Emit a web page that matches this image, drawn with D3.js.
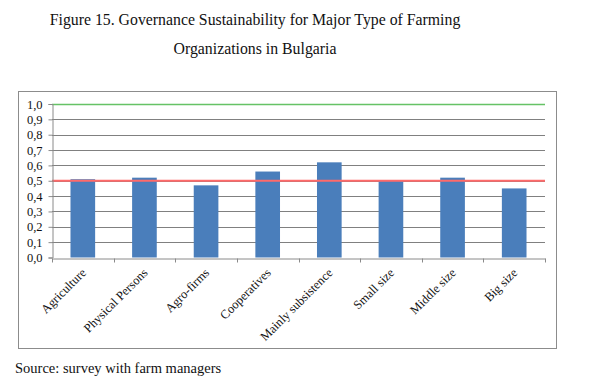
<!DOCTYPE html>
<html lang="en">
<head>
    <meta charset="UTF-8">
    <title>Governance Sustainability</title>
    <script src="https://cdn.jsdelivr.net/npm/d3@7/dist/d3.min.js"></script>
    <style>
        body { margin: 0; background: #fff; }
    </style>
</head>
<body>
    <script>
        // page size
        var w = 590;
        var h = 389;

        // data
        var categories = ["Agriculture", "Physical Persons", "Agro-firms", "Cooperatives",
                          "Mainly subsistence", "Small size", "Middle size", "Big size"];
        var values = [0.51, 0.52, 0.47, 0.56, 0.62, 0.50, 0.52, 0.45];
        var yTicks = [0, 0.1, 0.2, 0.3, 0.4, 0.5, 0.6, 0.7, 0.8, 0.9, 1.0];
        var threshold = 0.5;

        var titleLines = ["Figure 15. Governance Sustainability for Major Type of Farming",
                          "Organizations in Bulgaria"];
        var source = "Source: survey with farm managers";

        var serif = "'Liberation Serif', 'DejaVu Serif', serif";

        var svg = d3.select("body")
                    .append("svg")
                    .attr("width", w)
                    .attr("height", h);

        // title
        svg.selectAll("text.title")
            .data(titleLines)
            .enter()
            .append("text")
            .attr("class", "title")
            .attr("x", 255)
            .attr("y", function(d, i) { return 25 + i * 29; })
            .attr("text-anchor", "middle")
            .attr("font-family", serif)
            .attr("font-size", "15.8px")
            .attr("fill", "#111")
            .text(function(d) { return d; });

        // chart frame
        svg.append("rect")
            .attr("x", 18.5)
            .attr("y", 91.5)
            .attr("width", 538)
            .attr("height", 257)
            .attr("fill", "none")
            .attr("stroke", "#8c8c8c")
            .attr("stroke-width", 1);

        // scales
        var x = d3.scaleBand()
                  .domain(categories)
                  .range([52, 545])
                  .paddingInner(0.6)
                  .paddingOuter(0.3);

        var y = d3.scaleLinear()
                  .domain([0, 1])
                  .range([257.5, 104]);

        // gridlines
        svg.append("g")
            .selectAll("line")
            .data(yTicks.filter(function(d) { return d > 0; }))
            .enter()
            .append("line")
            .attr("x1", 52)
            .attr("x2", 545)
            .attr("y1", function(d) { return Math.round(y(d)) + 0.5; })
            .attr("y2", function(d) { return Math.round(y(d)) + 0.5; })
            .attr("stroke", function(d) { return d === 1 ? "#66c266" : "#808080"; })
            .attr("stroke-width", function(d) { return d === 1 ? 1.5 : 1; });

        // bars
        svg.selectAll("rect.bar")
            .data(values)
            .enter()
            .append("rect")
            .attr("class", "bar")
            .attr("x", function(d, i) { return x(categories[i]); })
            .attr("y", function(d) { return y(d); })
            .attr("width", x.bandwidth())
            .attr("height", function(d) { return y(0) - y(d); })
            .attr("fill", "#4a7ebb");

        // threshold line
        svg.append("line")
            .attr("x1", 52)
            .attr("x2", 545)
            .attr("y1", y(threshold))
            .attr("y2", y(threshold))
            .attr("stroke", "#ff6a6a")
            .attr("stroke-width", 2);

        // y axis
        var yAxis = d3.axisLeft(y)
                      .tickValues(yTicks)
                      .tickSize(4)
                      .tickFormat(function(d) { return d3.format(".1f")(d).replace(".", ","); });

        var gy = svg.append("g")
            .attr("transform", "translate(52.5,0)")
            .call(yAxis);
        gy.select(".domain").attr("stroke", "#8a8a8a");
        gy.selectAll(".tick line").attr("stroke", "#8a8a8a");
        gy.selectAll(".tick text")
            .attr("x", -10)
            .attr("font-family", serif)
            .attr("font-size", "12.5px")
            .attr("fill", "#111");

        // x axis
        var xAxis = d3.axisBottom(x).tickSize(0).tickSizeOuter(0);
        var gx = svg.append("g")
            .attr("transform", "translate(0," + (Math.round(y(0)) + 0.5) + ")")
            .call(xAxis);
        gx.select(".domain").attr("stroke", "#8a8a8a");
        gx.selectAll(".tick text")
            .attr("font-family", serif)
            .attr("font-size", "12.5px")
            .attr("fill", "#111")
            .attr("text-anchor", "end")
            .attr("dy", 0)
            .attr("y", 0)
            .attr("transform", "translate(4,15) rotate(-45)");

        // category boundary ticks
        var step = x.step();
        var edges = d3.range(categories.length + 1).map(function(i) { return 52 + i * step; });
        gx.selectAll("line.edge")
            .data(edges)
            .enter()
            .append("line")
            .attr("class", "edge")
            .attr("x1", function(d) { return Math.round(d) + 0.5; })
            .attr("x2", function(d) { return Math.round(d) + 0.5; })
            .attr("y1", 0)
            .attr("y2", 4)
            .attr("stroke", "#8a8a8a");

        // source
        svg.append("text")
            .attr("x", 15)
            .attr("y", 373)
            .attr("font-family", serif)
            .attr("font-size", "14.5px")
            .attr("fill", "#111")
            .text(source);
    </script>
</body>
</html>
